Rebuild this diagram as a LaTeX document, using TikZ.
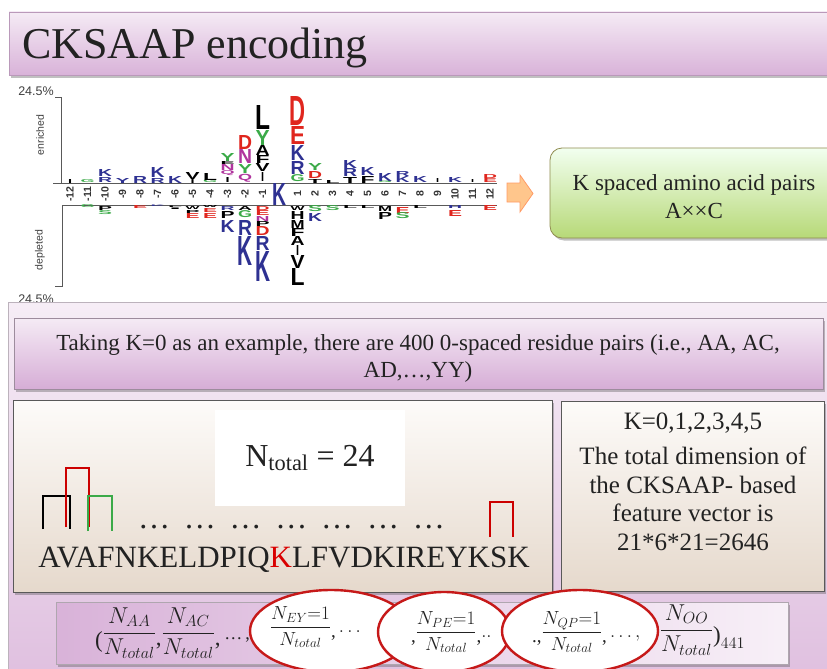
\RequirePackage{fix-cm}
\documentclass[tikz,border=0pt]{standalone}
\usepackage{amsmath}
\usepackage{fontspec}
\setmainfont{Liberation Serif}
\setsansfont{Liberation Sans}
\usepackage{graphicx}
\usetikzlibrary{shapes.geometric,shadows}
\definecolor{lblue}{HTML}{2E3192}
\definecolor{lred}{HTML}{E0261E}
\definecolor{lgreen}{HTML}{3BAA48}
\definecolor{lmag}{HTML}{B0359E}
\definecolor{txt}{HTML}{222222}
\newcounter{lgn}
\newcommand\LU[6][14]{\stepcounter{lgn}\node[lgl,text=#5,anchor=south] (lg\arabic{lgn}) at ({280+17.5*(#2)},#3) {\resizebox*{#1pt}{#4pt}{\sffamily\bfseries #6}};}
\newcommand\LD[6][14]{\stepcounter{lgn}\node[lgl,text=#5,anchor=north] (lg\arabic{lgn}) at ({280+17.5*(#2)},#3) {\resizebox*{#1pt}{#4pt}{\sffamily\bfseries #6}};}
\begin{document}
\begin{tikzpicture}[x=1pt,y=-1pt,
  every node/.style={inner sep=0pt,outer sep=0pt},
  lgl/.style={inner sep=0pt},
  shad/.style={drop shadow={shadow xshift=2pt,shadow yshift=-2.5pt,opacity=0.35,fill=black!70}},
  boxn/.style={rectangle,anchor=north west,draw},
  titlebox/.style={boxn,shad,draw=black!35!violet!40,top color=black!2!violet!8,bottom color=violet!30!white,line width=0.8pt},
  panelbox/.style={boxn,draw=violet!25!black!30,top color=violet!7!white,bottom color=violet!25!white,line width=0.8pt},
  takebox/.style={boxn,shad,draw=violet!30!black!45,top color=violet!8!white,bottom color=violet!32!white,line width=0.8pt},
  graybox/.style={boxn,shad,draw=black!65,top color=white!97!brown,bottom color=black!20!brown!25!white,line width=1pt},
  greenbox/.style={boxn,shad,rounded corners=12pt,draw=olive!45!gray,top color=yellow!15!green!6!white,bottom color=green!35!yellow!45!white!85!black,line width=0.8pt},
  fmlbox/.style={boxn,shad,draw=violet!20!black!35,left color=violet!30!white,right color=violet!6!white,line width=0.6pt},
  oval/.style={ellipse,draw=red!75!black!90,line width=2.4pt,fill=white},
  axisline/.style={draw=black!65,line width=0.9pt},
  poslab/.style={rotate=90,font=\sffamily\bfseries\fontsize{10.5}{11}\selectfont,text=black!80},
  axlab/.style={font=\sffamily\fontsize{10.5}{11}\selectfont,text=black!75},
  pctlab/.style={font=\sffamily\fontsize{12.5}{13}\selectfont,text=black!75},
  bracket/.style={line width=2.8pt},
  serif/.style={text=txt}
]
\useasboundingbox (0,0) rectangle (827,669);
\clip (0,0) rectangle (827,669);
\fill[white] (0,0) rectangle (827,669);

% title
\node[titlebox,minimum width=840pt,minimum height=63pt] (title) at (9,12) {};
\node[serif,anchor=base west,font=\fontsize{44}{48}\selectfont] (titletext) at (22,59) {CKSAAP encoding};

% ---------------- logo
\node[pctlab] (top245) at (36,91) {24.5\%};
\node[axlab,rotate=90] (enr) at (40,135) {enriched};
\node[axlab,rotate=90] (dep) at (40,250) {depleted};
\draw[axisline] (55,97) -- (61,97) -- (61,183);
\draw[axisline] (53,183) -- (497,183);
\draw[axisline] (62,205) -- (497,205);
\draw[axisline] (62,205) -- (62,286) -- (55,286);
\node[pctlab] (bot245) at (36,299) {24.5\%};
\foreach \i in {-12,-11,...,-1}{\pgfmathtruncatemacro{\j}{\i+12}\node[poslab] (pl\j) at ({280+17.5*\i},194) {\i};}
\foreach \i in {1,2,...,12}{\pgfmathtruncatemacro{\j}{\i+12}\node[poslab] (pl\j) at ({280+17.5*\i},194) {\i};}
\node[lgl,text=lblue] (cK) at (279,194) {\resizebox*{14pt}{22pt}{\sffamily\bfseries K}};
% enriched
\LU[4]{-12}{183}{4}{black}{I}
\LU{-11}{183}{3}{lgreen}{G}
\LU{-10}{182}{5}{lblue}{R}\LU{-10}{176}{7}{lblue}{K}
\LU{-9}{183}{5}{lblue}{Y}
\LU{-8}{183}{7}{lblue}{R}
\LU{-7}{183}{5}{lblue}{R}\LU{-7}{177}{10}{lblue}{K}
\LU{-6}{183}{7}{lblue}{K}
\LU[4]{-5}{183}{4}{black}{I}\LU{-5}{179}{7}{black}{V}
\LU{-4}{183}{3}{lgreen}{G}\LU{-4}{180}{7}{black}{L}
\LU[4]{-3}{182}{5}{black}{I}\LU{-3}{176}{5}{lmag}{Q}\LU{-3}{170}{6}{lmag}{N}\LU{-3}{164}{3}{black}{E}\LU{-3}{161}{8}{lgreen}{Y}
\LU{-2}{182}{8}{lmag}{Q}\LU{-2}{173}{9}{lgreen}{Y}\LU{-2}{163}{14}{lmag}{N}\LU{-2}{149}{14}{lred}{D}
\LU[3]{-1}{181}{9}{black}{I}\LU{-1}{171}{8}{black}{V}\LU{-1}{163}{8}{black}{F}\LU{-1}{155}{10}{black}{A}\LU{-1}{145}{15}{lgreen}{Y}\LU[15]{-1}{129}{24}{black}{L}
\LU{1}{182}{7}{lgreen}{G}\LU{1}{174}{13}{lblue}{R}\LU{1}{160}{15}{lblue}{K}\LU[15]{1}{144}{18}{lred}{E}\LU[16]{1}{125}{29}{lred}{D}
\LU{2}{183}{4}{black}{T}\LU{2}{178}{7}{lred}{D}\LU{2}{170}{7}{lgreen}{Y}
\LU{3}{183}{3}{black}{L}
\LU{4}{183}{6}{black}{T}\LU{4}{176}{8}{lblue}{R}\LU{4}{168}{8}{lblue}{K}
\LU{5}{183}{7}{black}{F}\LU{5}{175}{8}{lblue}{K}
\LU{6}{183}{2}{lgreen}{G}\LU{6}{181}{8}{lblue}{K}
\LU{7}{182}{6}{lblue}{K}\LU{7}{176}{5}{lblue}{R}
\LU{8}{182}{6}{lblue}{K}
\LU[3]{9}{182}{4}{black}{I}
\LU{10}{182}{5}{lblue}{K}
\LU[3]{11}{182}{3}{black}{I}
\LU{12}{182}{4}{lred}{E}\LU{12}{178}{4}{lred}{D}
% depleted
\LD{-11}{205}{3}{lgreen}{G}
\LD{-10}{206}{4}{black}{P}\LD{-10}{211}{4}{lgreen}{S}
\LD{-8}{205}{3}{lred}{E}
\LD{-7}{205}{1.5}{lblue}{K}
\LD{-6}{206}{1.5}{black}{L}\LD{-6}{208}{1.5}{black}{I}
\LD{-5}{206}{3}{black}{W}\LD{-5}{210}{3}{black}{P}\LD{-5}{213}{5}{lred}{E}
\LD{-4}{205}{2}{black}{W}\LD{-4}{208}{4}{lred}{E}\LD{-4}{213}{5}{lred}{E}
\LD{-3}{206}{4}{lblue}{R}\LD{-3}{211}{7}{black}{P}\LD{-3}{220}{12}{lblue}{K}
\LD{-2}{206}{4}{black}{A}\LD{-2}{211}{7}{lgreen}{G}\LD{-2}{220}{15}{lblue}{R}\LD[15]{-2}{236}{29}{lblue}{K}
\LD{-1}{206}{4}{lred}{D}\LD{-1}{210}{5}{lred}{E}\LD{-1}{216}{5}{lmag}{N}\LD{-1}{221}{5}{black}{P}\LD{-1}{226}{9}{lred}{D}\LD{-1}{236}{14}{lblue}{R}\LD[15]{-1}{251}{30}{lblue}{K}
\LD{1}{206}{4}{black}{W}\LD{1}{211}{8}{black}{H}\LD{1}{220}{8}{black}{M}\LD{1}{228}{8}{black}{F}\LD{1}{236}{9}{black}{A}\LD[3]{1}{245}{10}{black}{I}\LD{1}{255}{13}{black}{V}\LD{1}{268}{17}{black}{L}
\LD{2}{206}{6}{lgreen}{S}\LD{2}{213}{8}{lblue}{K}
\LD{3}{206}{5}{lgreen}{S}
\LD{4}{205}{3}{black}{L}
\LD{5}{205}{3}{black}{L}
\LD{6}{206}{5}{black}{M}\LD{6}{212}{7}{black}{P}
\LD{7}{207}{6}{lred}{E}\LD{7}{213}{6}{lgreen}{S}
\LD{8}{205}{3}{black}{L}
\LD{10}{205}{3}{lblue}{H}\LD{10}{210}{6}{lred}{E}
\LD{12}{205}{5}{lred}{E}

% arrow and green box
\draw[draw=orange!70!red!60,line width=0.8pt,fill=orange!45!white] (507,183) -- (520,183) -- (520,175) -- (533,193.5) -- (520,212) -- (520,202) -- (507,202) -- cycle;
\node[greenbox,minimum width=290pt,minimum height=90pt] (kbox) at (550,148) {};
\node[serif,align=center,font=\fontsize{23}{28}\selectfont] (ktext) at (694,197) {K spaced amino acid pairs\\A××C};

% ---------------- lower panel
\node[panelbox,minimum width=840pt,minimum height=380pt] (panel) at (8,302) {};
\node[takebox,minimum width=809pt,minimum height=71pt] (take) at (14,318) {};
\node[serif,align=center,font=\fontsize{23}{27}\selectfont] (taketext) at (418,358) {Taking K=0 as an example, there are 400 0-spaced residue pairs (i.e., AA, AC,\\AD,…,YY)};

% left gray box
\node[graybox,minimum width=539pt,minimum height=192pt] (lbox) at (13,400) {};
\node[boxn,draw=none,fill=white,minimum width=190pt,minimum height=96pt] (wbox) at (215,410) {};
\node[serif,font=\fontsize{32}{34}\selectfont] (ntot) at (310,458) {N\textsubscript{total} = 24};
\draw[bracket,black] (43,529) -- (43,496) -- (70,496) -- (70,529);
\draw[bracket,red!80!black] (66,527) -- (66,468) -- (89,468) -- (89,527);
\draw[bracket,lgreen] (88,531) -- (88,496) -- (112,496) -- (112,531);
\draw[bracket,red!80!black] (490,537) -- (490,502) -- (513,502) -- (513,537);
\foreach \i in {0,...,6}{\node[serif,font=\fontsize{32}{34}\selectfont] (dots\i) at ({154+45.8*\i},527) {…};}
\node[serif,anchor=base,font=\fontsize{31}{34}\selectfont] (seq) at (284,567) {AVAFNKELDPIQ{\color{red!85!black}K}LFVDKIREYKSK};

% right gray box
\node[graybox,minimum width=263pt,minimum height=190pt] (rbox) at (561,401) {};
\node[serif,align=center,font=\fontsize{25}{28.7}\selectfont] (rtext) at (693,482) {K=0,1,2,3,4,5\\[6pt]The total dimension of\\the CKSAAP- based\\feature vector is\\21*6*21=2646};

% formula
\node[fmlbox,minimum width=732pt,minimum height=62pt] (fbox) at (56,602) {};
\node[serif,anchor=base west,font=\fontsize{23}{26}\selectfont] (fa) at (95,639) {$\raisebox{-0.35em}{(}\dfrac{N_{AA}}{N_{total}}\raisebox{-0.3em}{,}\dfrac{N_{AC}}{N_{total}}\raisebox{-0.3em}{,}$\,{\fontsize{18}{20}\selectfont …\,,}};
\node[oval,minimum width=162pt,minimum height=82pt] (e1) at (331,631) {};
\node[serif,anchor=base west,font=\fontsize{19}{21}\selectfont] (t1) at (270,632) {$\dfrac{N_{EY}{=}1}{N_{total}}\raisebox{-0.3em}{,}\ldots$};
\node[oval,minimum width=132pt,minimum height=80pt] (e2) at (444,632) {};
\node[serif,anchor=base west,font=\fontsize{19}{21}\selectfont] (t2) at (411,637) {$\raisebox{-0.3em}{,}\dfrac{N_{PE}{=}1}{N_{total}}\raisebox{-0.3em}{,}..$};
\node[oval,minimum width=156pt,minimum height=82pt] (e3) at (580,631) {};
\node[serif,anchor=base west,font=\fontsize{19}{21}\selectfont] (t3) at (532,637) {$\raisebox{-0.3em}{.,}\dfrac{N_{QP}{=}1}{N_{total}}\raisebox{-0.3em}{,}\ldots,$};
\node[serif,anchor=base west,font=\fontsize{23}{26}\selectfont] (t4) at (660,636) {$\dfrac{N_{OO}}{N_{total}}\raisebox{-0.3em}{)}_{441}$};
\end{tikzpicture}
\end{document}
